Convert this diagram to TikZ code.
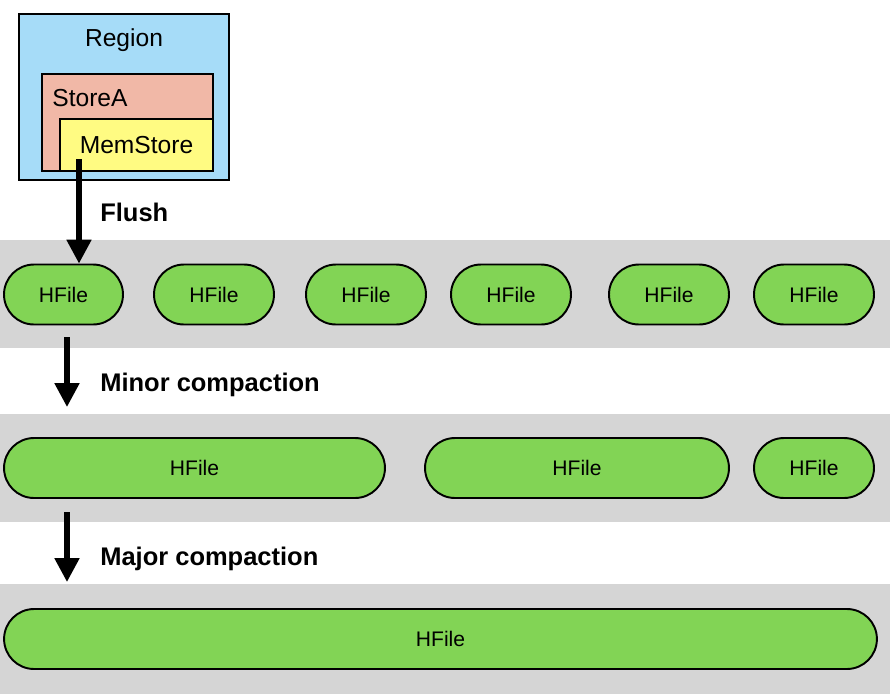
\documentclass[tikz,border=0pt]{standalone}
\usepackage{fontspec}
\setmainfont{Liberation Sans}
\usetikzlibrary{arrows.meta}
\definecolor{regionblue}{HTML}{A6DCF8}
\definecolor{storesalmon}{HTML}{F1B8A7}
\definecolor{memyellow}{HTML}{FFFB82}
\definecolor{bandgray}{HTML}{D5D5D5}
\definecolor{hfilegreen}{HTML}{82D455}
\tikzstyle{box} = [draw, line width=1.1pt, inner sep=0pt]
\tikzstyle{hfile} = [draw, line width=1.1pt, fill=hfilegreen, rounded corners=0.6cm, minimum height=1.2cm, inner sep=0pt, font=\fontsize{12}{14}\selectfont]
\tikzstyle{band} = [fill=bandgray, minimum width=17.8cm, inner sep=0pt]
\tikzstyle{phase} = [anchor=base west, inner sep=0pt, font=\bfseries\fontsize{14.5}{16}\selectfont]
\tikzstyle{arrow} = [line width=3pt, -{Triangle[length=13.6pt,width=13.6pt]}]

\begin{document}
\begin{tikzpicture}[x=0.02cm, y=-0.02cm]
    \useasboundingbox (0,0) rectangle (890,694);
    % grey bands
    \node[band, minimum height=2.16cm] (band1) at (445,294) {};
    \node[band, minimum height=2.16cm] (band2) at (445,468) {};
    \node[band, minimum height=2.2cm] (band3) at (445,639) {};
    % region with its store
    \node[box, fill=regionblue, minimum width=4.2cm, minimum height=3.32cm] (region) at (124,97) {};
    \node[box, fill=storesalmon, minimum width=3.42cm, minimum height=1.94cm] (storea) at (127.5,122.5) {};
    \node[box, fill=memyellow, minimum width=3.06cm, minimum height=1.04cm] (memstore) at (136.5,145) {};
    \node[anchor=base, font=\fontsize{14}{16}\selectfont] (regionlabel) at (124,46) {Region};
    \node[anchor=base west, inner sep=0pt, font=\fontsize{14}{16}\selectfont] (storealabel) at (52,106) {StoreA};
    \node[anchor=base, font=\fontsize{14}{16}\selectfont] (memlabel) at (136.5,153) {MemStore};
    % after flush
    \node[hfile, minimum width=2.38cm] (h11) at (63.5,294.5) {HFile};
    \node[hfile, minimum width=2.4cm] (h12) at (214,294.5) {HFile};
    \node[hfile, minimum width=2.4cm] (h13) at (366,294.5) {HFile};
    \node[hfile, minimum width=2.4cm] (h14) at (511,294.5) {HFile};
    \node[hfile, minimum width=2.4cm] (h15) at (669,294.5) {HFile};
    \node[hfile, minimum width=2.4cm] (h16) at (814,294.5) {HFile};
    % after minor compaction
    \node[hfile, minimum width=7.62cm] (h21) at (194.5,468) {HFile};
    \node[hfile, minimum width=6.08cm] (h22) at (577,468) {HFile};
    \node[hfile, minimum width=2.4cm] (h23) at (814,468) {HFile};
    % after major compaction
    \node[hfile, minimum width=17.46cm] (h31) at (440.5,639) {HFile};
    % arrows
    \coordinate (flushstart) at (79,159);
    \coordinate (minorstart) at (67,337);
    \coordinate (minorend) at (67,407);
    \coordinate (majorstart) at (67,512);
    \coordinate (majorend) at (67,582);
    \draw[arrow] (flushstart) -- (flushstart |- h11.north);
    \draw[arrow] (minorstart) -- (minorend);
    \draw[arrow] (majorstart) -- (majorend);
    \node[phase] (flushlabel) at (100,221) {Flush};
    \node[phase] (minorlabel) at (100,391) {Minor compaction};
    \node[phase] (majorlabel) at (100,565) {Major compaction};
\end{tikzpicture}
\end{document}
